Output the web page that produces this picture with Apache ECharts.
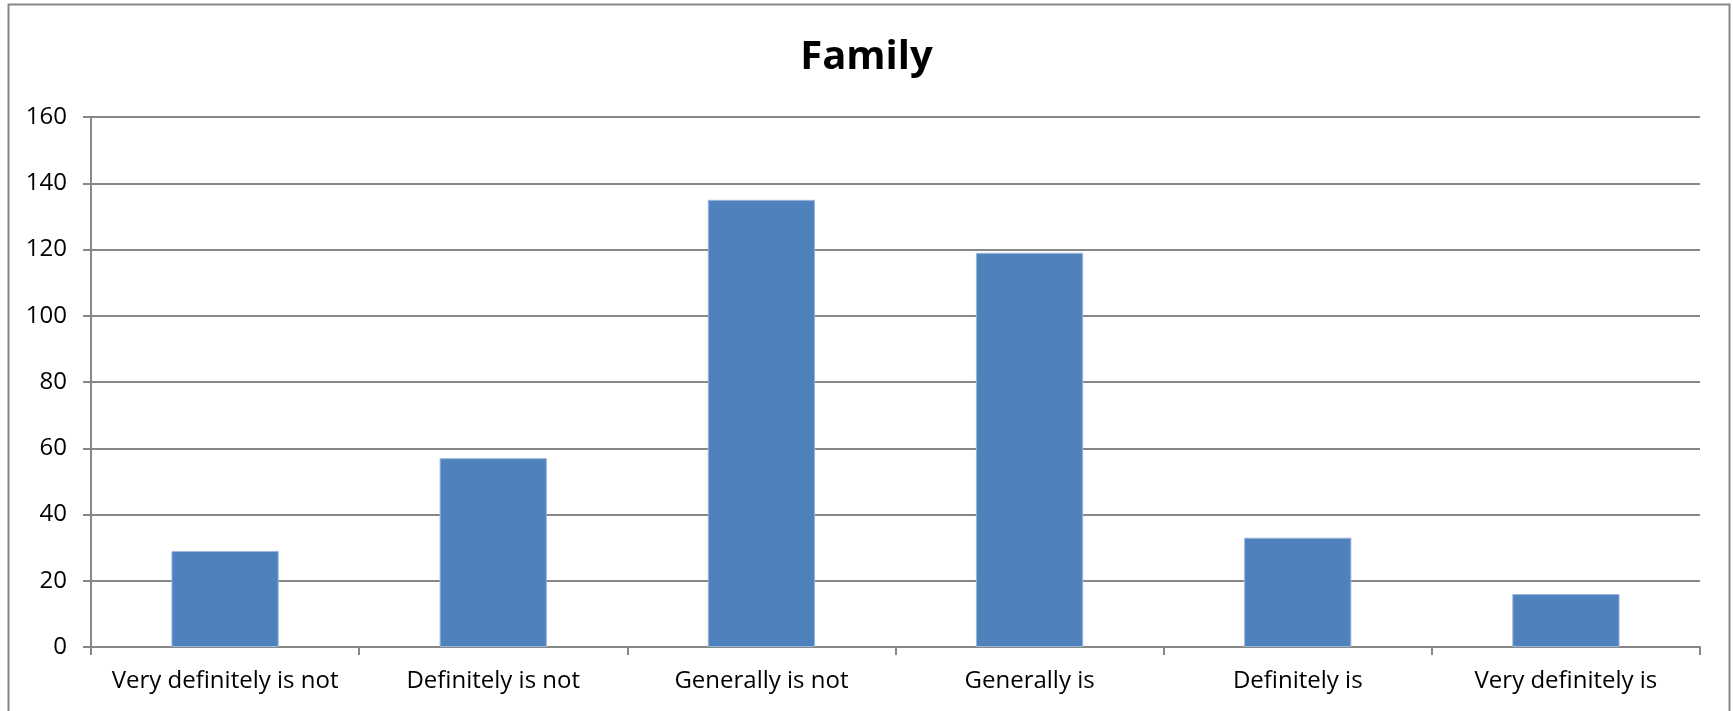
<!DOCTYPE html>
<html>
<head>
<meta charset="utf-8">
<title>Family</title>
<script src="https://cdn.jsdelivr.net/npm/echarts@6/dist/echarts.min.js"></script>
<style>
  html, body { margin: 0; padding: 0; background: #ffffff; }
  #chart { width: 1733px; height: 711px; }
</style>
</head>
<body>
<div id="chart"></div>
<script>
// Survey responses for "Family"
const categories = [
  'Very definitely is not',
  'Definitely is not',
  'Generally is not',
  'Generally is',
  'Definitely is',
  'Very definitely is'
];
const counts = [29, 57, 135, 119, 33, 16];
const yTicks = { min: 0, max: 160, interval: 20 };

const FONT = '"Open Sans", "Liberation Sans", sans-serif';
const GRID_GREY = '#878787';

const chart = echarts.init(document.getElementById('chart'), null, { renderer: 'canvas' });

chart.setOption({
  backgroundColor: '#ffffff',
  animation: false,
  title: {
    text: 'Family',
    left: 'center',
    top: 33,
    textStyle: { fontFamily: FONT, fontWeight: 'bold', fontSize: 40, color: '#000000' }
  },
  graphic: [{
    type: 'rect',
    silent: true,
    shape: { x: 8.5, y: 4.5, width: 1721, height: 740 },
    style: { fill: 'none', stroke: GRID_GREY, lineWidth: 2 }
  }],
  grid: { left: 91, right: 33, top: 117, bottom: 64, containLabel: false },
  xAxis: {
    type: 'category',
    data: categories,
    boundaryGap: true,
    axisLine: { show: true, lineStyle: { color: GRID_GREY, width: 2 } },
    axisTick: { show: true, length: 8, alignWithLabel: false, lineStyle: { color: GRID_GREY, width: 2 } },
    axisLabel: { fontFamily: FONT, fontSize: 24, color: '#000000', margin: 22, interval: 0 },
    splitLine: { show: false }
  },
  yAxis: {
    type: 'value',
    min: yTicks.min,
    max: yTicks.max,
    interval: yTicks.interval,
    axisLine: { show: true, lineStyle: { color: GRID_GREY, width: 2 } },
    axisTick: { show: true, length: 8, lineStyle: { color: GRID_GREY, width: 2 } },
    axisLabel: { fontFamily: FONT, fontSize: 24, color: '#000000', margin: 24 },
    splitLine: { show: true, lineStyle: { color: GRID_GREY, width: 2 } }
  },
  series: [{
    type: 'bar',
    data: counts,
    barWidth: '40%',
    itemStyle: { color: '#4F81BD', borderColor: '#9bb7dc', borderWidth: 1 }
  }]
});
</script>
</body>
</html>
